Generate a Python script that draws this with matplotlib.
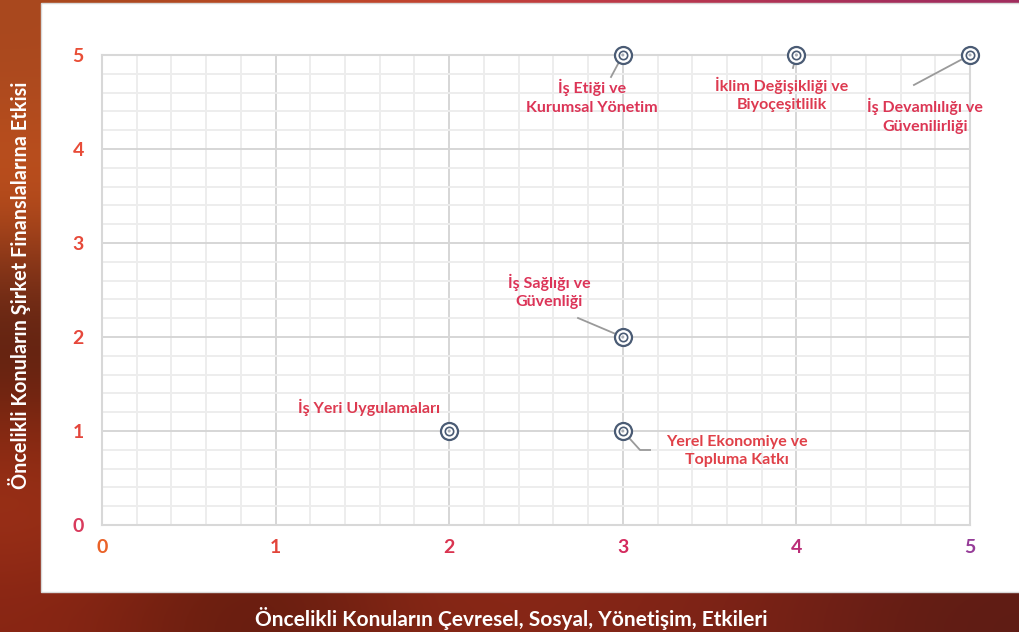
import numpy as np
import matplotlib
matplotlib.use('Agg')
import matplotlib.pyplot as plt
from matplotlib.patches import Rectangle

plt.rcParams['font.family'] = ['Lato', 'DejaVu Sans']

# Données : (Çevresel/Sosyal/Yönetişim etkisi, Finansal etki)
topics = ['İş Etiği ve\nKurumsal Yönetim',
          'İklim Değişikliği ve\nBiyoçeşitlilik',
          'İş Devamlılığı ve\nGüvenilirliği',
          'İş Sağlığı ve\nGüvenliği',
          'İş Yeri Uygulamaları',
          'Yerel Ekonomiye ve\nTopluma Katkı']
x_vals = [3, 4, 5, 3, 2, 3]
y_vals = [5, 5, 5, 2, 1, 1]

x_ticks = [0, 1, 2, 3, 4, 5]
y_ticks = [0, 1, 2, 3, 4, 5]
x_tick_colors = ['#ea6228', '#e2443a', '#da3450', '#d42a5e', '#bb2e78', '#963c98']
y_tick_colors = ['#d93a5c', '#e4463c', '#e6483c', '#e74a3a', '#e84c38', '#e94e36']

# position des étiquettes et des traits de rappel (en coordonnées de données)
label_pos = [(2.823, 4.553), (3.917, 4.580), (4.741, 4.351),
             (2.575, 2.484), (1.538, 1.255), (3.658, 0.787)]
leaders = [[(3, 5), (2.932, 4.766)],
           [(4, 5), (3.980, 4.862)],
           [(5, 5), (4.677, 4.681)],
           [(3, 2), (2.742, 2.202)],
           None,
           [(3, 1), (3.099, 0.798), (3.157, 0.798)]]
label_colors = ['#dc3456', '#dd3a50', '#dc3654', '#dc3458', '#dd3a50', '#e04048']

fig = plt.figure(figsize=(10.2, 6.32), dpi=100)

# fond (photo coucher de soleil approximée)
bg_colors = [
    ['#a8481e', '#b84a24', '#c4442e', '#c03a48', '#b03258', '#a02c60'],
    ['#b24c1e', '#b84a22', '#b84824', '#b44626', '#b04424', '#a84024'],
    ['#c0501c', '#c0501e', '#c04e1e', '#bc4a1e', '#b4461e', '#ac421e'],
    ['#7a3018', '#80301a', '#88301a', '#88301a', '#80301a', '#782c1a'],
    ['#5a2010', '#6a2412', '#782814', '#7a2814', '#702614', '#662214'],
    ['#8a2a12', '#7a2412', '#8a2814', '#882614', '#7c2214', '#6a1e14'],
    ['#a03218', '#6a1e10', '#962a18', '#8e2818', '#842418', '#6a2018'],
    ['#8a2614', '#5a1a0e', '#8a2816', '#842616', '#7a2216', '#5e1c14'],
]
bg_rgb = np.array([[matplotlib.colors.to_rgb(c) for c in row] for row in bg_colors])
bg = fig.add_axes([0, 0, 1, 1], zorder=0)
bg.imshow(bg_rgb, extent=[0, 1020, 632, 0], aspect='auto', interpolation='bicubic')
bg.set_xlim(0, 1020)
bg.set_ylim(632, 0)
bg.axis('off')
bg.add_patch(Rectangle((41, 3), 985, 589, facecolor='white', edgecolor='#d8d8d8', lw=1))

ax = fig.add_axes([0.1, 0.1693, 0.851, 0.7437], zorder=1)
ax.set_facecolor('none')
ax.set_xlim(0, 5)
ax.set_ylim(0, 5)

ax.set_xticks(x_ticks)
ax.set_yticks(y_ticks)
ax.set_xticks(np.arange(0, 5.01, 0.2), minor=True)
ax.set_yticks(np.arange(0, 5.01, 0.2), minor=True)
ax.grid(which='minor', color='#ededed', lw=1.4, zorder=0)
ax.grid(which='major', color='#d6d6d6', lw=1.4, zorder=0)
ax.set_axisbelow(True)
for s in ax.spines.values():
    s.set_color('#d8d8d8')
    s.set_linewidth(1.5)

ax.tick_params(which='both', length=0)
ax.tick_params(axis='x', pad=10)
ax.tick_params(axis='y', pad=13)
ax.set_xticklabels([str(t) for t in x_ticks], fontsize=14, fontweight='bold')
ax.set_yticklabels([str(t) for t in y_ticks], fontsize=14, fontweight='bold')
for lab, c in zip(ax.get_xticklabels(), x_tick_colors):
    lab.set_color(c)
for lab, c in zip(ax.get_yticklabels(), y_tick_colors):
    lab.set_color(c)

# traits de rappel
for ld in leaders:
    if ld is None:
        continue
    xs = [p[0] for p in ld]
    ys = [p[1] for p in ld]
    ax.plot(xs, ys, color='#9a9a9a', lw=1.3, zorder=3, clip_on=False)

# marqueurs concentriques
ax.scatter(x_vals, y_vals, s=150, facecolor='white', edgecolor='#4a5b74', linewidth=1.6, zorder=4, clip_on=False)
ax.scatter(x_vals, y_vals, s=36, facecolor='white', edgecolor='#4a5b74', linewidth=1.2, zorder=5, clip_on=False)
ax.scatter(x_vals, y_vals, s=5, facecolor='#a8adb5', edgecolor='none', zorder=6, clip_on=False)

for t, (lx, ly), c in zip(topics, label_pos, label_colors):
    ax.text(lx, ly, t, ha='center', va='center', fontsize=11.5, fontweight='bold',
            color=c, linespacing=1.4, zorder=7)

fig.text(0.0196, 0.549, 'Öncelikli Konuların Şirket Finanslalarına Etkisi', rotation=90,
         ha='center', va='center', color='white', fontsize=14.3, fontweight='bold')
fig.text(0.501, 0.022, 'Öncelikli Konuların Çevresel, Sosyal, Yönetişim, Etkileri',
         ha='center', va='center', color='white', fontsize=15, fontweight='bold')

fig.savefig('out.png', dpi=100)
